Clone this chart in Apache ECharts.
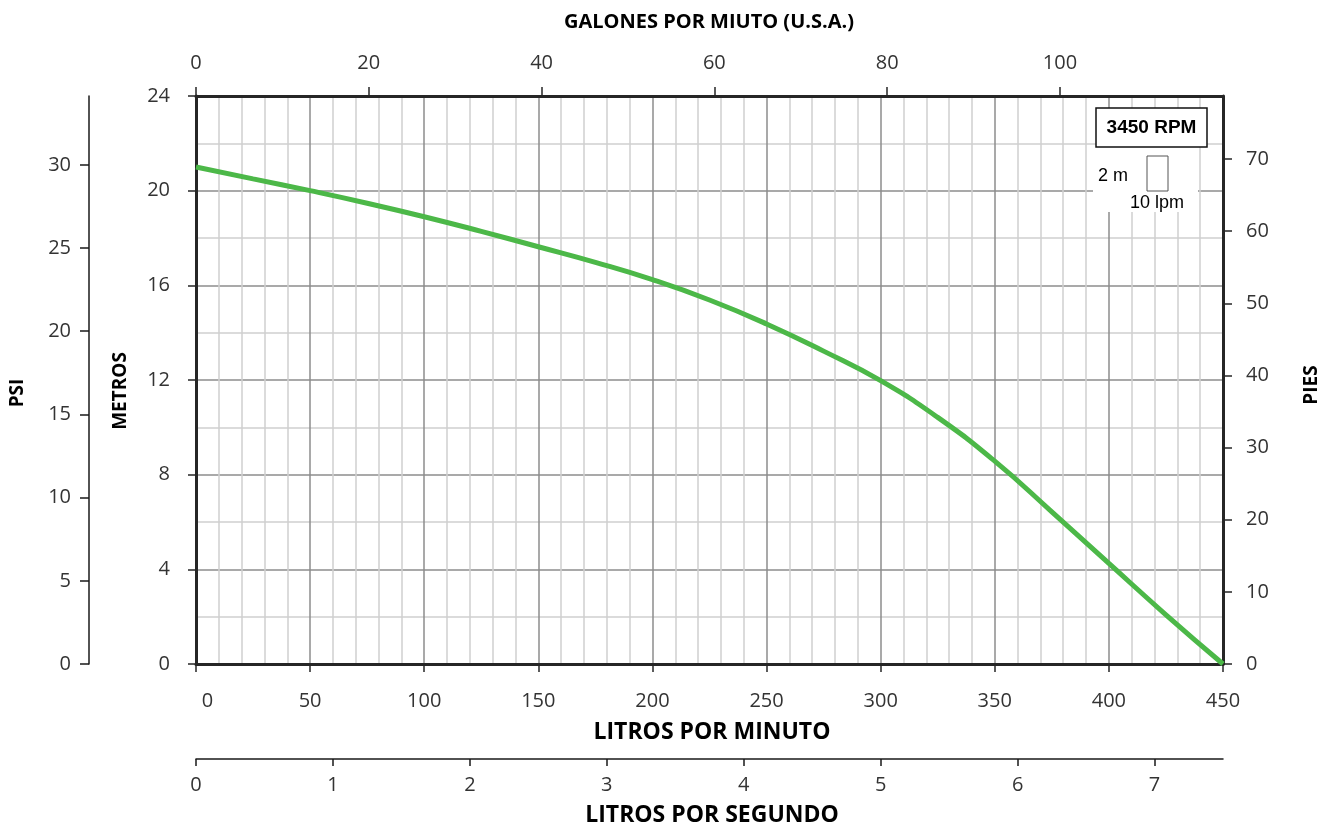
<!DOCTYPE html>
<html lang="es">
<head>
    <meta charset="UTF-8">
    <title>Curva 3450 RPM</title>
    <script src="https://cdn.jsdelivr.net/npm/echarts@6/dist/echarts.min.js"></script>
    <style>
        html, body { margin: 0; padding: 0; background: #fff; }
    </style>
</head>
<body>
<div id="main" style="width: 1330px;height:825px;"></div>
<script type="text/javascript">
    // caudal (litros por minuto) y altura (metros)
    var caudalLpm = [0, 25, 50, 75, 100, 125, 150, 175, 200, 225, 250, 275, 300, 325, 350, 375, 400, 425, 450];
    var alturaM   = [21.0, 20.5, 20.0, 19.47, 18.9, 18.28, 17.63, 16.97, 16.24, 15.38, 14.37, 13.22, 11.97, 10.42, 8.57, 6.43, 4.25, 2.08, 0];

    // rangos de los ejes
    var lpmMax = 450;
    var metrosMax = 24;
    var gpmMax = lpmMax / 3.78541;      // galones por minuto
    var lpsMax = lpmMax / 60;           // litros por segundo
    var psiMax = metrosMax * 1.42233;
    var piesMax = metrosMax * 3.28084;

    var serie = [];
    for (var i = 0; i < caudalLpm.length; i++) {
        serie.push([caudalLpm[i], alturaM[i]]);
    }

    var labelFont = {color: '#333', fontSize: 20, fontFamily: 'Open Sans'};
    var titleFont = {fill: '#000', fontSize: 19, fontWeight: 'bold', fontFamily: 'Open Sans'};
    var borde = '#262626';

    var myChart = echarts.init(document.getElementById('main'));
    myChart.setOption({
        animation: false,
        grid: {left: 196, right: 107, top: 96, bottom: 161, outerBoundsMode: 'none', containLabel: false},
        xAxis: [
            {   // litros por minuto
                type: 'value', min: 0, max: lpmMax, interval: 50, position: 'bottom',
                axisLine: {show: true, onZero: false, lineStyle: {color: borde, width: 3}},
                axisTick: {show: true, length: 8, lineStyle: {color: borde, width: 1.5}},
                axisLabel: Object.assign({
                    margin: 27, showMaxLabel: true,
                    formatter: function (v) { return v === 0 ? '{a|0}' : String(v); },
                    rich: {a: {padding: [0, 0, 0, 23], fontSize: 20, fontFamily: 'Open Sans', color: '#333'}}
                }, labelFont),
                splitLine: {show: true, lineStyle: {color: '#8c8c8c', width: 1.5}},
                minorTick: {show: false, splitNumber: 5},
                minorSplitLine: {show: true, lineStyle: {color: '#cfcfcf', width: 1.5}}
            },
            {   // galones por minuto
                type: 'value', min: 0, max: gpmMax, interval: 20, position: 'top',
                axisLine: {show: true, onZero: false, lineStyle: {color: borde, width: 3}},
                axisTick: {show: true, length: 9, lineStyle: {color: borde, width: 1.5}},
                axisLabel: Object.assign({margin: 23, showMaxLabel: false}, labelFont),
                splitLine: {show: false}
            },
            {   // litros por segundo
                type: 'value', min: 0, max: lpsMax, interval: 1, position: 'bottom', offset: 95,
                axisLine: {show: true, onZero: false, lineStyle: {color: '#1a1a1a', width: 1.5}},
                axisTick: {show: true, length: 7, lineStyle: {color: '#1a1a1a', width: 1.5}},
                axisLabel: Object.assign({margin: 16, showMaxLabel: false}, labelFont),
                splitLine: {show: false}
            }
        ],
        yAxis: [
            {   // metros
                type: 'value', min: 0, max: metrosMax, interval: 4, position: 'left',
                axisLine: {show: true, onZero: false, lineStyle: {color: borde, width: 3}},
                axisTick: {show: true, length: 8, lineStyle: {color: borde, width: 1.5}},
                axisLabel: Object.assign({margin: 26, showMaxLabel: true}, labelFont),
                splitLine: {show: true, lineStyle: {color: '#8c8c8c', width: 1.5}},
                minorTick: {show: false, splitNumber: 2},
                minorSplitLine: {show: true, lineStyle: {color: '#cfcfcf', width: 1.5}}
            },
            {   // psi
                type: 'value', min: 0, max: psiMax, interval: 5, position: 'left', offset: 107,
                axisLine: {show: true, onZero: false, lineStyle: {color: '#1a1a1a', width: 1.5}},
                axisTick: {show: true, length: 9, lineStyle: {color: '#1a1a1a', width: 1.5}},
                axisLabel: Object.assign({margin: 18, showMaxLabel: false}, labelFont),
                splitLine: {show: false}
            },
            {   // pies
                type: 'value', min: 0, max: piesMax, interval: 10, position: 'right',
                axisLine: {show: true, onZero: false, lineStyle: {color: borde, width: 3}},
                axisTick: {show: true, length: 9, lineStyle: {color: borde, width: 1.5}},
                axisLabel: Object.assign({margin: 23, showMaxLabel: false}, labelFont),
                splitLine: {show: false}
            }
        ],
        series: [{
            type: 'line',
            xAxisIndex: 0,
            yAxisIndex: 0,
            data: serie,
            smooth: true,
            symbol: 'none',
            lineStyle: {color: '#4cb848', width: 5},
            z: 5
        }],
        graphic: [
            {type: 'text', style: Object.assign({}, titleFont, {text: 'GALONES POR MIUTO (U.S.A.)', x: 709, y: 22, align: 'center', verticalAlign: 'middle', fontSize: 20})},
            {type: 'text', style: Object.assign({}, titleFont, {text: 'LITROS POR MINUTO', x: 712, y: 732, align: 'center', verticalAlign: 'middle', fontSize: 23})},
            {type: 'text', style: Object.assign({}, titleFont, {text: 'LITROS POR SEGUNDO', x: 712, y: 815, align: 'center', verticalAlign: 'middle', fontSize: 23})},
            {type: 'text', x: 18, y: 393, rotation: Math.PI / 2, style: Object.assign({text: 'PSI', align: 'center', verticalAlign: 'middle'}, titleFont)},
            {type: 'text', x: 121, y: 391, rotation: Math.PI / 2, style: Object.assign({text: 'METROS', align: 'center', verticalAlign: 'middle'}, titleFont)},
            {type: 'text', x: 1312, y: 385, rotation: Math.PI / 2, style: Object.assign({text: 'PIES', align: 'center', verticalAlign: 'middle'}, titleFont)},
            // cuadro de escala y rpm
            {type: 'rect', z: 10, shape: {x: 1093, y: 147, width: 105, height: 65}, style: {fill: '#fff'}},
            {type: 'rect', z: 11, shape: {x: 1096, y: 108, width: 111, height: 39}, style: {fill: '#fff', stroke: '#111', lineWidth: 1.5}},
            {type: 'text', z: 12, style: {text: '3450 RPM', x: 1151.5, y: 128, align: 'center', verticalAlign: 'middle', fill: '#000', fontSize: 19, fontWeight: 'bold', fontFamily: 'Liberation Sans'}},
            {type: 'rect', z: 11, shape: {x: 1147, y: 156, width: 21, height: 35}, style: {fill: '#fff', stroke: '#555', lineWidth: 1}},
            {type: 'text', z: 12, style: {text: '2 m', x: 1113, y: 176, align: 'center', verticalAlign: 'middle', fill: '#000', fontSize: 18, fontFamily: 'Liberation Sans'}},
            {type: 'text', z: 12, style: {text: '10 lpm', x: 1157, y: 203, align: 'center', verticalAlign: 'middle', fill: '#000', fontSize: 18, fontFamily: 'Liberation Sans'}}
        ]
    });
</script>
</body>
</html>
